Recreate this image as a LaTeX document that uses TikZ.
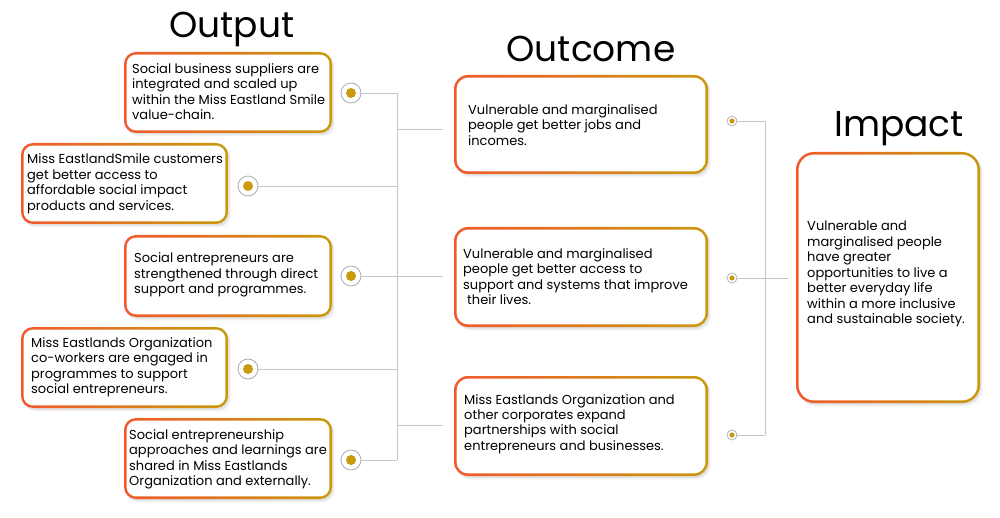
\documentclass[tikz,border=0pt]{standalone}
\usepackage{fontspec}
\setmainfont{Poppins}
\definecolor{orng}{HTML}{F2592C}
\definecolor{gld}{HTML}{C99A0E}
\definecolor{lgray}{HTML}{C6C6C6}
\definecolor{cgray}{HTML}{ADADAD}
\tikzset{
  boxarea/.style={inner sep=0pt, outer sep=0pt, draw=none},
  txt/.style={inner sep=0pt, align=left, font=\fontsize{13}{15.4}\selectfont, text=black, anchor=base west},
  ttl/.style={inner sep=0pt, font=\fontsize{36}{40}\selectfont, text=black, anchor=base},
  conn/.style={draw=lgray, line width=0.9pt},
  bigdot/.style={circle, draw=cgray, line width=0.8pt, fill=white, minimum size=20pt, inner sep=0pt,
    path picture={\fill[gld] (path picture bounding box.center) circle (5pt);}},
  smalldot/.style={circle, draw=cgray, line width=0.7pt, fill=white, minimum size=10pt, inner sep=0pt,
    path picture={\fill[gld] (path picture bounding box.center) circle (2.6pt);}},
}
\newcommand\gbox[6]{%
  \node[boxarea, minimum width={#4pt-#2pt}, minimum height={#5pt-#3pt}] (#1) at ({(#2+#4)/2},{(#3+#5)/2}) {};
  \foreach \s/\o in {1/0.05,2/0.04,3/0.03}{
    \fill[black, opacity=\o, rounded corners={#6pt}] ([xshift=\s pt,yshift=-\s pt-0.5pt]#1.south west) rectangle ([xshift=\s pt,yshift=-\s pt]#1.north east);
  }
  \shade[left color=orng, right color=gld, rounded corners={#6pt}] (#1.south west) rectangle (#1.north east);
  \fill[white, rounded corners={#6pt-2.6pt}] ([shift={(2.6pt,2.6pt)}]#1.south west) rectangle ([shift={(-2.6pt,-2.6pt)}]#1.north east);
}
\begin{document}
\begin{tikzpicture}[x=1pt,y=-1pt]
\useasboundingbox[fill=white] (0,0) rectangle (1000,518);

% titles
\node[ttl] (tout) at (232,38) {Output};
\node[ttl] (toc) at (591,62) {Outcome};
\node[ttl] (timp) at (899,137) {Impact};

% output boxes
\gbox{b1}{124}{52}{332}{133}{12}
\gbox{b2}{21}{143}{228}{224}{12}
\gbox{b3}{124}{235}{332}{317}{12}
\gbox{b4}{21}{327}{228}{408}{12}
\gbox{b5}{124}{418}{332}{499}{12}
% outcome boxes
\gbox{o1}{454}{75}{708}{174}{14}
\gbox{o2}{454}{227}{708}{327}{14}
\gbox{o3}{454}{376}{708}{476}{14}
% impact box
\gbox{imp}{796}{152}{980}{403}{18}

% texts (anchor = baseline of the last line)
\node[txt] (t1) at (132,119.5) {Social business suppliers are\\integrated and scaled up\\within the Miss Eastland Smile\\value-chain.};
\node[txt] (t2) at (27,210.2) {Miss EastlandSmile customers\\get better access to\\affordable social impact\\products and services.};
\node[txt] (t3) at (134,293.5) {Social entrepreneurs are\\strengthened through direct\\support and programmes.};
\node[txt] (t4) at (31,393.5) {Miss Eastlands Organization\\co-workers are engaged in\\programmes to support\\social entrepreneurs.};
\node[txt] (t5) at (129,485.5) {Social entrepreneurship\\approaches and learnings are\\shared in Miss Eastlands\\Organization and externally.};
\node[txt] (u1) at (468,145.1) {Vulnerable and marginalised\\people get better jobs and\\incomes.};
\node[txt] (u2) at (463,304.5) {Vulnerable and marginalised\\people get better access to\\support and systems that improve\\\hspace*{4pt}their lives.};
\node[txt] (u3) at (464,450.2) {Miss Eastlands Organization and\\other corporates expand\\partnerships with social\\entrepreneurs and businesses.};
\node[txt] (v1) at (807,323.4) {Vulnerable and\\marginalised people\\have greater\\opportunities to live a\\better everyday life\\within a more inclusive\\and sustainable society.};

% left connector tree
\coordinate (jL) at (397,93);
\coordinate (e1) at (443,129);
\coordinate (e2) at (443,276);
\coordinate (e3) at (443,425);
\node[bigdot] (c1) at (351,93) {};
\node[bigdot] (c2) at (248,186) {};
\node[bigdot] (c3) at (351,276) {};
\node[bigdot] (c4) at (248,369) {};
\node[bigdot] (c5) at (351,460) {};
\draw[conn] (c1) -- (c1 -| jL);
\draw[conn] (c2) -- (c2 -| jL);
\draw[conn] (c3) -- (e2);
\draw[conn] (c4) -- (c4 -| jL);
\draw[conn] (c5) -- (c5 -| jL);
\draw[conn] (c1 -| jL) -- (c5 -| jL);
\draw[conn] (e1 -| jL) -- (e1);
\draw[conn] (e3 -| jL) -- (e3);

% right connector tree
\coordinate (jR) at (765,121);
\node[smalldot] (s1) at (732,121) {};
\node[smalldot] (s2) at (732,278) {};
\node[smalldot] (s3) at (732,435) {};
\draw[conn] (s1) -- (s1 -| jR);
\draw[conn] (s3) -- (s3 -| jR);
\draw[conn] (s1 -| jR) -- (s3 -| jR);
\draw[conn] (s2) -- ([xshift=-8pt]s2 -| imp.west);
\end{tikzpicture}
\end{document}
